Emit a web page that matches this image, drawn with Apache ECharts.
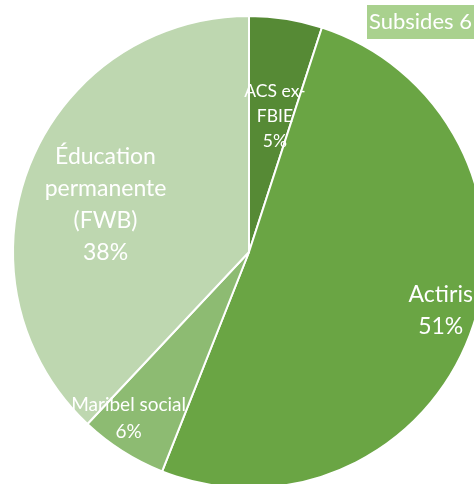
<!DOCTYPE html>
<html>
<head>
<meta charset="utf-8">
<script src="https://cdn.jsdelivr.net/npm/echarts@6/dist/echarts.min.js"></script>
<style>html,body{margin:0;padding:0;background:#fff;}#c{width:474px;height:484px;}</style>
</head>
<body>
<div id="c"></div>
<script>
const titleText = 'Subsides 6';
const categories = ['ACS ex-\nFBIE', 'Actiris', 'Maribel social', 'Éducation\npermanente\n(FWB)'];
const values = [5, 51, 6, 38];
const colors = ['#568a35', '#6aa544', '#8dbb72', '#bed7b0'];

const CX = 249, CY = 252, R = 236;
// label placement (angle clockwise from top in degrees, fraction of radius) and font sizes
const labelPlace = [[10.8, 0.587], [107.1, 0.85], [215.9, 0.87], [288.2, 0.64]];
const labelSize = [17.5, 23, 19, 23];

const chart = echarts.init(document.getElementById('c'));
chart.setOption({
  animation: false,
  title: {
    text: titleText,
    left: 367, top: 5,
    backgroundColor: '#a9d18e',
    padding: [6, 40, 6, 2],
    textStyle: { color: '#ffffff', fontFamily: 'Lato', fontSize: 22, lineHeight: 22, fontWeight: 'normal' }
  },
  series: [{
    type: 'pie',
    center: [CX, CY],
    radius: R,
    startAngle: 90,
    clockwise: true,
    itemStyle: { borderColor: '#ffffff', borderWidth: 2 },
    label: {
      show: true,
      position: 'inside',
      formatter: '{b}\n{c}%',
      color: '#ffffff',
      fontFamily: 'Lato',
      align: 'center',
      verticalAlign: 'middle'
    },
    labelLine: { show: false },
    labelLayout: function (p) {
      const i = p.dataIndex;
      const a = labelPlace[i][0] * Math.PI / 180;
      const r = labelPlace[i][1] * R;
      return { x: CX + r * Math.sin(a), y: CY - r * Math.cos(a) };
    },
    data: categories.map((n, i) => ({
      name: n,
      value: values[i],
      itemStyle: { color: colors[i] },
      label: { fontSize: labelSize[i], lineHeight: Math.round(labelSize[i] * 1.4) }
    }))
  }]
});
</script>
</body>
</html>
